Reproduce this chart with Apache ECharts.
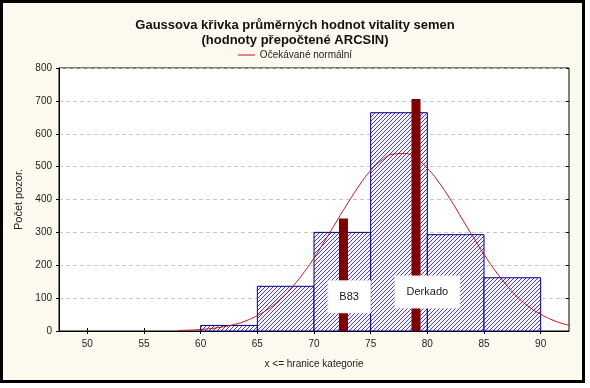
<!DOCTYPE html>
<html><head><meta charset="utf-8">
<script src="https://cdn.jsdelivr.net/npm/echarts@6/dist/echarts.min.js"></script>
<style>
html,body{margin:0;padding:0;background:#fff;width:590px;height:388px;overflow:hidden}
#frame{position:absolute;left:0;top:0;width:585px;height:383px;box-sizing:border-box;border:3px solid #000;background:#fcf9ee}
#chart{position:absolute;left:0;top:0;width:590px;height:388px}
</style></head>
<body>
<div id="frame"></div>
<div id="chart"></div>
<script>
// Histogram bins (x <= upper bound of category)
const binStart = [60, 65, 70, 75, 80, 85];
const binEnd   = [65, 70, 75, 80, 85, 90];
const binCount = [17, 136, 300, 664, 293, 162];

// Expected normal curve
const curveX = [58, 59, 60, 61, 62, 63, 64, 65, 66, 67, 68, 69, 70, 71, 72, 73, 74, 75, 76, 77, 78, 79, 80, 81, 82, 83, 84, 85, 86, 87, 88, 89, 90, 91, 92, 92.5];
const curveY = [1.5, 2.6, 4.6, 7.8, 12.8, 20, 31, 47, 68, 96, 131, 173, 222, 277, 334, 390, 443, 488, 520, 538, 540, 525, 495, 453, 402, 345, 288, 233, 183, 139, 102, 73, 51, 34, 22, 18];

// Varieties
const varietyNames = ['B83', 'Derkado'];
const varietyX = [72.6, 79.0];
const varietyY = [342, 706];
const labelX = [73.1, 80.0];
const labelY = [104, 119];

const xTicks = [50, 55, 60, 65, 70, 75, 80, 85, 90];

const tile = document.createElement('canvas');
tile.width = 4; tile.height = 4;
const tc = tile.getContext('2d');
tc.fillStyle = '#f6f3fc'; tc.fillRect(0, 0, 4, 4);
tc.fillStyle = '#4848a0';
for (let i = 0; i < 4; i++) tc.fillRect(3 - i, i, 1, 1);
const hatch = { image: tile, repeat: 'repeat' };

const font = 'Liberation Sans, Arial, sans-serif';
const chart = echarts.init(document.getElementById('chart'), null, { renderer: 'canvas' });
chart.setOption({
  backgroundColor: 'transparent',
  animation: false,
  textStyle: { fontFamily: font },
  title: {
    text: 'Gaussova křivka průměrných hodnot vitality semen\n(hodnoty přepočtené ARCSIN)',
    left: 'center', top: 13,
    textStyle: { fontFamily: font, fontSize: 13, fontWeight: 'bold', color: '#111', lineHeight: 15 }
  },
  legend: {
    top: 45, left: 'center',
    data: [{ name: 'Očekávané normální', icon: 'rect' }],
    itemWidth: 17, itemHeight: 1, itemGap: 4,
    textStyle: { fontFamily: font, fontSize: 10, color: '#222' }
  },
  grid: {
    left: 59, right: 21, top: 68, bottom: 57,
    show: true, backgroundColor: '#ffffff', borderColor: '#000', borderWidth: 1
  },
  xAxis: [{
    type: 'value', min: 47.5, max: 92.5,
    name: 'x <= hranice kategorie', nameLocation: 'middle', nameGap: 28,
    nameTextStyle: { fontFamily: font, fontSize: 10, color: '#222' },
    axisLine: { show: true, onZero: false, lineStyle: { color: '#000' } },
    axisTick: { show: true, inside: true, length: 3, customValues: xTicks, lineStyle: { color: '#000' } },
    axisLabel: { customValues: xTicks, margin: 8, fontSize: 10, color: '#222', fontFamily: font },
    splitLine: { show: false }
  }, {
    type: 'value', min: 47.5, max: 92.5, position: 'top',
    axisLine: { show: false },
    axisTick: { show: true, inside: true, length: 3, customValues: xTicks, lineStyle: { color: '#000' } },
    axisLabel: { show: false }, splitLine: { show: false }
  }],
  yAxis: [{
    type: 'value', min: 0, max: 800, interval: 100,
    name: 'Počet pozor.', nameLocation: 'middle', nameGap: 35, nameRotate: 90,
    nameTextStyle: { fontFamily: font, fontSize: 11, color: '#222' },
    axisLine: { show: true, lineStyle: { color: '#000' } },
    axisTick: { show: true, length: 3, lineStyle: { color: '#000' } },
    axisLabel: { margin: 7, fontSize: 10, color: '#222', fontFamily: font },
    splitLine: { show: true, lineStyle: { color: '#c8c8c8', type: [4, 3] } }
  }, {
    type: 'value', min: 0, max: 800, interval: 100, position: 'right',
    axisLine: { show: false },
    axisTick: { show: true, inside: true, length: 3, lineStyle: { color: '#000' } },
    axisLabel: { show: false }, splitLine: { show: false }
  }],
  series: [{
    type: 'custom', name: 'hist', z: 2,
    data: binStart.map((s, i) => [s, binEnd[i], binCount[i]]),
    encode: { x: [0, 1], y: 2 },
    renderItem: function (params, api) {
      const p0 = api.coord([api.value(0), 0]);
      const p1 = api.coord([api.value(1), api.value(2)]);
      return {
        type: 'rect',
        shape: { x: p0[0], y: p1[1], width: p1[0] - p0[0], height: p0[1] - p1[1] },
        style: { fill: hatch, stroke: '#000080', lineWidth: 1 }
      };
    }
  }, {
    type: 'line', name: 'Očekávané normální', z: 3,
    data: curveX.map((x, i) => [x, curveY[i]]),
    smooth: true, showSymbol: false, symbol: 'none',
    lineStyle: { color: '#b81818', width: 1 }, itemStyle: { color: '#b81818' }
  }, {
    type: 'bar', name: 'odrudy', z: 4,
    data: varietyX.map((x, i) => [x, varietyY[i]]),
    barWidth: 9, itemStyle: { color: '#800000' }
  }, {
    type: 'scatter', name: 'popisky', z: 5,
    data: labelX.map((x, i) => ({ name: varietyNames[i], value: [x, labelY[i]] })),
    symbolSize: 0,
    itemStyle: { color: '#222', opacity: 1 },
    label: {
      show: true, position: 'inside', formatter: '{b}',
      fontFamily: font, fontSize: 11, color: '#1a1a1a', opacity: 1,
      textBorderWidth: 0,
      backgroundColor: '#ffffff', borderColor: '#f0eef4', borderWidth: 1,
      padding: [8, 11, 12, 11]
    }
  }]
});
</script>
</body></html>
